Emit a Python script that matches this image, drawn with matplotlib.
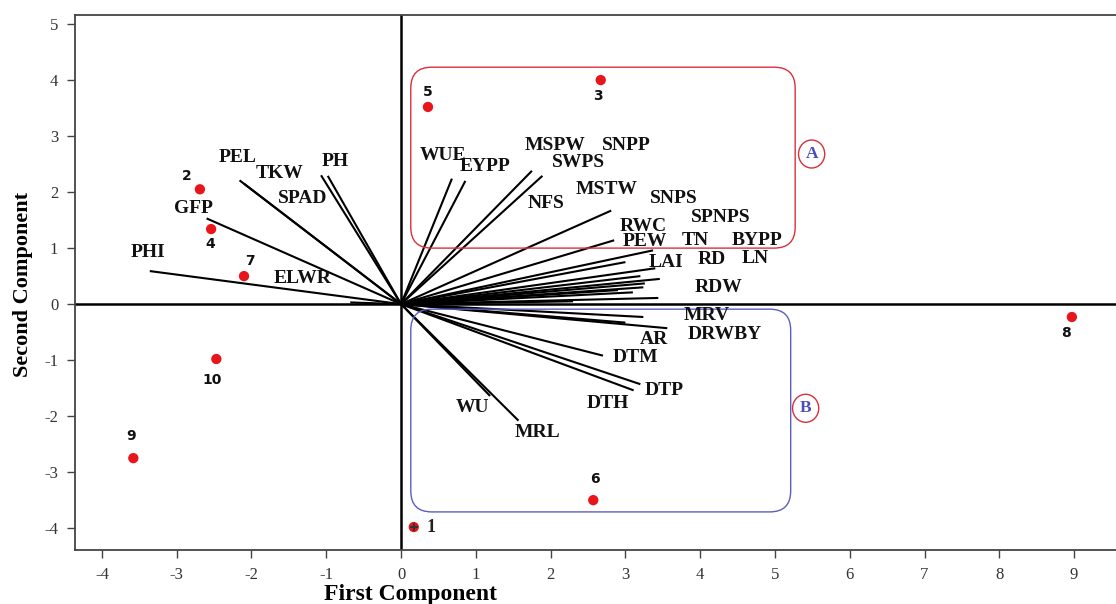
import matplotlib
matplotlib.use("Agg")
import matplotlib.pyplot as plt
from matplotlib.patches import FancyBboxPatch, Ellipse

plt.rcParams['axes.unicode_minus'] = False

# Observation scores (genotypes)
obs_ids = ['1', '2', '3', '4', '5', '6', '7', '8', '9', '10']
obs_x = [0.17, -2.69, 2.67, -2.54, 0.36, 2.57, -2.10, 8.97, -3.58, -2.47]
obs_y = [-3.98, 2.05, 4.00, 1.34, 3.52, -3.50, 0.50, -0.23, -2.75, -0.98]
obs_lab_x = [0.40, -2.86, 2.63, -2.55, 0.36, 2.59, -2.02, 8.89, -3.61, -2.53]
obs_lab_y = [-3.98, 2.29, 3.71, 1.07, 3.79, -3.13, 0.77, -0.52, -2.36, -1.36]

# Variable loadings (line end points)
load_x = [0.68, 0.86, 1.75, 1.89, 2.81, 2.85, 3.37, 3.40, 3.46, 3.26, 3.24, 3.10,
          3.44, 2.30, 3.00, 3.20, 2.90,
          3.24, 3.56, 2.70, 3.20, 3.11, 1.19, 1.57, 3.00,
          -2.16, -2.10, -1.07, -0.98, -2.60, -3.36, -0.68]
load_y = [2.24, 2.20, 2.38, 2.29, 1.67, 1.14, 0.96, 0.64, 0.45, 0.37, 0.30, 0.21,
          0.11, 0.05, 0.75, 0.50, 0.25,
          -0.23, -0.43, -0.92, -1.43, -1.54, -1.64, -2.08, -0.33,
          2.21, 2.15, 2.30, 2.29, 1.53, 0.59, 0.03]

# Variable names and their label positions
var_names = ['PEL', 'TKW', 'PH', 'SPAD', 'GFP', 'PHI', 'ELWR',
             'WUE', 'EYPP', 'MSPW', 'SNPP', 'SWPS', 'NFS', 'MSTW', 'SNPS', 'RWC',
             'SPNPS', 'PEW', 'TN', 'BYPP', 'LAI', 'RD', 'LN', 'RDW',
             'MRV', 'DRWBY', 'AR', 'DTM', 'DTP', 'DTH', 'WU', 'MRL']
var_lab_x = [-2.18, -1.63, -0.88, -1.32, -2.77, -3.38, -1.32,
             0.56, 1.12, 2.06, 3.01, 2.37, 1.94, 2.75, 3.65, 3.24,
             4.28, 3.26, 3.93, 4.76, 3.54, 4.16, 4.73, 4.25,
             4.09, 4.33, 3.38, 3.14, 3.52, 2.77, 0.96, 1.82]
var_lab_y = [2.61, 2.34, 2.55, 1.89, 1.71, 0.93, 0.45,
             2.66, 2.45, 2.84, 2.84, 2.52, 1.80, 2.04, 1.88, 1.39,
             1.54, 1.11, 1.13, 1.13, 0.75, 0.79, 0.82, 0.29,
             -0.20, -0.54, -0.64, -0.96, -1.55, -1.77, -1.84, -2.30]

# Group boxes
group_names = ['A', 'B']
box_x0 = [0.13, 0.13]
box_x1 = [5.27, 5.21]
box_y0 = [1.00, -3.71]
box_y1 = [4.23, -0.09]
box_colors = ['#d9303a', '#5a5fc0']
tag_x = [5.49, 5.41]
tag_y = [2.68, -1.86]

xticks = list(range(-4, 10))
yticks = list(range(-4, 6))

serif = ['Liberation Serif', 'DejaVu Serif']

fig = plt.figure(figsize=(11.16, 6.04), dpi=100)
ax = fig.add_axes([75 / 1116, 0.0894, 1 - 75 / 1116, 0.8856])
ax.set_xlim(-4.36, 9.56)
ax.set_ylim(-4.39, 5.16)

# aspect correction for rounded corners (px per unit x / px per unit y)
asp = (1 / 56.0) / (1 / 74.8)

# reference axes
ax.axhline(0, color='black', lw=1.8, zorder=2)
ax.axvline(0, color='black', lw=1.8, zorder=2)

# loading lines
for lx, ly in zip(load_x, load_y):
    ax.plot([0, lx], [0, ly], color='black', lw=1.5, solid_capstyle='butt', zorder=3)

# variable labels
for name, tx, ty in zip(var_names, var_lab_x, var_lab_y):
    ax.text(tx, ty, name, family=serif, fontweight='bold', fontsize=14,
            ha='center', va='center', color='#111111', zorder=5)

# group boxes
for g, x0, x1, y0, y1, c, gx, gy in zip(group_names, box_x0, box_x1, box_y0, box_y1,
                                        box_colors, tag_x, tag_y):
    p = FancyBboxPatch((x0, y0), x1 - x0, y1 - y0,
                       boxstyle='round,pad=0,rounding_size=0.28',
                       mutation_aspect=asp, fill=False, edgecolor=c, lw=1.0, zorder=4)
    ax.add_patch(p)
    e = Ellipse((gx, gy), 0.35, 0.50, fill=False, edgecolor='#d9303a', lw=1.0, zorder=4)
    ax.add_patch(e)
    ax.text(gx, gy, g, family=serif, fontweight='bold', fontsize=12.5,
            ha='center', va='center', color='#4a4fb8', zorder=5)

# observation points
ax.scatter(obs_x, obs_y, s=55, color='#e8151b', edgecolors='none', zorder=6)
ax.plot([obs_x[0]], [obs_y[0]], marker='+', color='#333333', ms=6, mew=1.5, zorder=7)
for oid, tx, ty in zip(obs_ids, obs_lab_x, obs_lab_y):
    if oid == '1':
        ax.text(tx, ty, oid, family=serif, fontweight='bold', fontsize=13,
                ha='center', va='center', color='#222222', zorder=7)
    else:
        ax.text(tx, ty, oid, family='DejaVu Sans', fontweight='bold', fontsize=10,
                ha='center', va='center', color='#111111', zorder=7)

# axes styling
ax.set_xticks(xticks)
ax.set_yticks(yticks)
ax.set_xticklabels([str(t) for t in xticks], family=serif, fontsize=12, color='#333333')
ax.set_yticklabels([str(t) for t in yticks], family=serif, fontsize=12, color='#333333')
ax.tick_params(direction='out', length=6, width=1.0, color='#444444', pad=6)
ax.spines['right'].set_visible(False)
for s in ['left', 'bottom', 'top']:
    ax.spines[s].set_color('#444444')
    ax.spines[s].set_linewidth(1.3)

ax.set_xlabel('First Component', family=serif, fontweight='bold', fontsize=17)
ax.xaxis.set_label_coords((411 - 75) / 1041, -0.064)
ax.set_ylabel('Second Component', family=serif, fontweight='bold', fontsize=16)
ax.yaxis.set_label_coords(-0.040, (550 - 284) / 535)

fig.savefig('out.png', dpi=100)
